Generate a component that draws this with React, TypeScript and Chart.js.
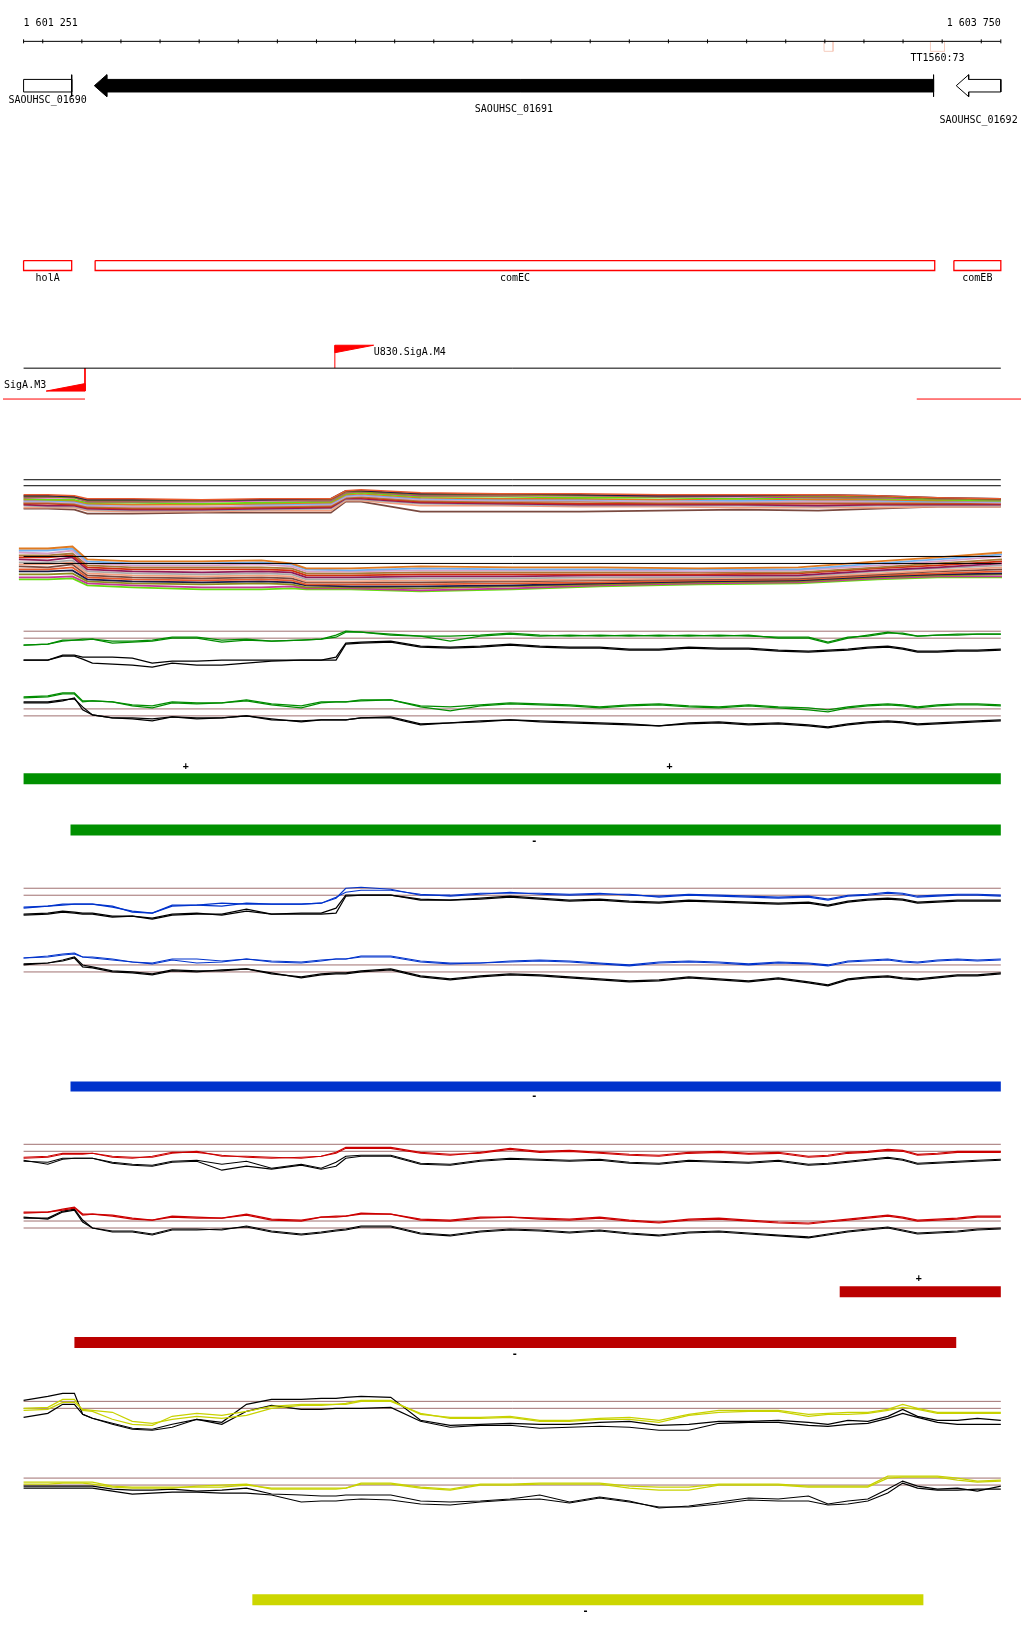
import React, { useEffect, useRef } from "react";
import { Chart, registerables } from "chart.js";

Chart.register(...registerables);

// ================= DATA =================
const VIEW_START = 1601251;
const VIEW_END = 1603750;
const RULER_TICKS = [1601251, 1601300, 1601400, 1601500, 1601600, 1601700, 1601800, 1601900, 1602000, 1602100, 1602200, 1602300, 1602400, 1602500, 1602600, 1602700, 1602800, 1602900, 1603000, 1603100, 1603200, 1603300, 1603400, 1603500, 1603600, 1603700, 1603750];
const RULER_LABELS = ["1 601 251", "1 603 750"];

const TERM_START = [1603298, 1603570];
const TERM_END = [1603321, 1603606];
const TERM_LABELS = ["", "TT1560:73"];

const GENE_NAMES = ["SAOUHSC_01690", "SAOUHSC_01691", "SAOUHSC_01692"];
const GENE_START = [1601150, 1601432, 1603636];
const GENE_END = [1601374, 1603578, 1603830];
const GENE_STRAND = ["-", "-", "-"];
const GENE_FILLED = [false, true, false];

const OPERON_NAMES = ["holA", "comEC", "comEB"];
const OPERON_START = [1601251, 1601434, 1603630];
const OPERON_END = [1601374, 1603581, 1603750];

const SITE_NAMES = ["U830.SigA.M4", "SigA.M3"];
const SITE_POS = [1602047, 1601408];
const SITE_STRAND = ["+", "-"];
const SITE_SPAN_START = [1601198, 1603535];
const SITE_SPAN_END = [1601408, 1603802];

// expressed segments [start, end]
const GREEN_PLUS_SEG = [[1601251, 1603750]];
const GREEN_MINUS_SEG = [[1601371, 1603750]];
const BLUE_MINUS_SEG = [[1601371, 1603750]];
const RED_PLUS_SEG = [[1603338, 1603750]];
const RED_MINUS_SEG = [[1601381, 1603636]];
const YELLOW_MINUS_SEG = [[1601836, 1603552]];
const GREEN_PLUS_MARKS = [1601666, 1602903];
const GREEN_MINUS_MARKS = [1602557];
const BLUE_MINUS_MARKS = [1602557];
const RED_PLUS_MARKS = [1603540];
const RED_MINUS_MARKS = [1602507];
const YELLOW_MINUS_MARKS = [1602688];

// signal grid (genomic positions)
const GRID_X = [1601251, 1601313, 1601351, 1601381, 1601402, 1601427, 1601478, 1601529, 1601580, 1601631, 1601694, 1601758, 1601821, 1601885, 1601961, 1602012, 1602050, 1602075, 1602114, 1602190, 1602266, 1602342, 1602419, 1602495, 1602571, 1602647, 1602724, 1602800, 1602876, 1602952, 1603029, 1603105, 1603181, 1603258, 1603308, 1603359, 1603410, 1603461, 1603499, 1603537, 1603588, 1603639, 1603690, 1603750];
const THRESHOLDS = [3.0, 3.7];

const G1_GREEN_A = [2.3,2.4,2.8,2.8,2.9,2.9,2.7,2.7,2.8,3.1,3.1,2.8,2.9,2.7,2.8,2.9,3.1,3.6,3.6,3.4,3.2,3.2,3.3,3.5,3.3,3.2,3.3,3.2,3.3,3.2,3.3,3.2,3.1,3.1,2.6,3.1,3.2,3.5,3.5,3.2,3.3,3.4,3.4,3.4];
const G1_GREEN_B = [2.3,2.4,2.7,2.8,2.8,2.9,2.5,2.6,2.7,3.0,3.0,2.6,2.8,2.7,2.8,2.9,3.3,3.7,3.6,3.3,3.2,2.7,3.2,3.4,3.2,3.3,3.2,3.3,3.2,3.3,3.2,3.3,3.0,3.0,2.5,3.0,3.3,3.6,3.4,3.2,3.3,3.3,3.4,3.4];
const G1_BLACK_A = [0.8,0.8,1.3,1.3,1.1,1.1,1.1,1.0,0.5,0.7,0.7,0.8,0.8,0.8,0.8,0.8,1.1,2.5,2.6,2.7,2.2,2.1,2.2,2.4,2.2,2.1,2.1,1.9,1.9,2.1,2.0,2.0,1.8,1.7,1.8,1.9,2.1,2.2,2.0,1.7,1.7,1.8,1.8,1.9];
const G1_BLACK_B = [0.8,0.8,1.2,1.2,0.9,0.5,0.4,0.3,0.1,0.5,0.3,0.3,0.5,0.7,0.8,0.8,0.8,2.4,2.5,2.6,2.1,2.0,2.1,2.3,2.1,2.0,2.0,1.8,1.8,2.0,1.9,1.9,1.7,1.6,1.7,1.8,2.0,2.1,1.9,1.6,1.6,1.7,1.7,1.8];
const G2_GREEN_A = [4.9,5.0,5.3,5.3,4.5,4.5,4.4,4.1,4.0,4.4,4.3,4.3,4.6,4.2,4.0,4.4,4.4,4.4,4.6,4.6,4.0,3.9,4.1,4.3,4.2,4.1,3.9,4.1,4.2,4.0,3.9,4.1,3.9,3.8,3.6,3.9,4.1,4.2,4.1,3.9,4.1,4.2,4.2,4.1];
const G2_GREEN_B = [4.8,4.9,5.2,5.2,4.4,4.5,4.4,4.0,3.8,4.3,4.2,4.3,4.5,4.1,3.8,4.3,4.4,4.4,4.5,4.6,3.9,3.5,4.0,4.2,4.1,4.0,3.8,4.0,4.1,3.9,3.8,4.0,3.8,3.6,3.4,3.8,4.0,4.1,4.0,3.8,4.0,4.1,4.1,4.0];
const G2_BLACK_A = [4.3,4.3,4.5,4.8,3.6,3.1,2.8,2.8,2.7,2.9,2.8,2.8,3.0,2.6,2.5,2.6,2.6,2.6,2.8,2.9,2.2,2.3,2.5,2.6,2.5,2.4,2.3,2.2,2.0,2.3,2.4,2.2,2.3,2.1,1.9,2.2,2.4,2.5,2.4,2.2,2.3,2.4,2.5,2.6];
const G2_BLACK_B = [4.4,4.4,4.6,4.7,3.9,3.1,2.8,2.7,2.5,2.9,2.7,2.8,3.0,2.7,2.4,2.6,2.6,2.6,2.8,2.8,2.1,2.3,2.4,2.6,2.4,2.3,2.2,2.1,2.0,2.2,2.3,2.1,2.2,2.0,1.8,2.1,2.3,2.4,2.3,2.1,2.2,2.3,2.4,2.5];

const B1_BLUE_A = [1.7,1.9,2.1,2.1,2.1,2.1,1.9,1.3,1.2,2.0,2.0,1.9,2.2,2.1,2.1,2.2,2.7,3.7,3.8,3.6,3.0,3.0,3.2,3.2,3.2,3.1,3.2,3.0,2.9,3.1,3.0,2.9,2.8,2.9,2.6,3.0,3.1,3.3,3.2,2.9,3.0,3.1,3.1,3.0];
const B1_BLUE_B = [1.8,1.9,2.0,2.1,2.1,2.1,1.8,1.4,1.2,1.9,2.0,2.2,2.1,2.1,2.1,2.2,2.8,3.3,3.5,3.5,3.1,2.9,3.1,3.3,3.1,3.0,3.1,3.1,2.8,3.0,2.9,2.8,2.7,2.8,2.5,2.9,3.0,3.2,3.1,2.8,2.9,3.0,3.0,2.9];
const B1_BLACK_A = [1.1,1.2,1.4,1.3,1.2,1.2,0.9,0.9,0.7,1.1,1.2,1.0,1.4,1.1,1.2,1.2,1.7,3.0,3.0,3.0,2.6,2.5,2.7,2.9,2.7,2.5,2.6,2.4,2.3,2.5,2.4,2.3,2.2,2.3,2.0,2.4,2.6,2.7,2.6,2.3,2.4,2.5,2.5,2.5];
const B1_BLACK_B = [1.0,1.1,1.3,1.2,1.1,1.1,0.8,0.9,0.6,1.0,1.1,1.1,1.6,1.1,1.1,1.1,1.2,2.9,3.0,3.0,2.5,2.5,2.6,2.8,2.6,2.4,2.5,2.3,2.2,2.4,2.3,2.2,2.1,2.2,1.9,2.3,2.5,2.6,2.5,2.2,2.3,2.4,2.4,2.4];
const B2_BLUE_A = [4.4,4.6,4.8,4.9,4.5,4.5,4.3,4.0,3.9,4.3,4.3,4.1,4.3,4.1,4.0,4.2,4.3,4.3,4.6,4.6,4.1,3.9,3.9,4.1,4.2,4.1,3.9,3.7,4.0,4.1,4.0,3.8,4.0,3.9,3.7,4.1,4.2,4.3,4.1,4.0,4.2,4.3,4.2,4.3];
const B2_BLUE_B = [4.4,4.5,4.7,4.8,4.5,4.4,4.2,4.0,3.8,4.2,3.9,4.0,4.3,4.0,3.9,4.1,4.3,4.3,4.5,4.5,4.0,3.8,3.9,4.0,4.1,4.0,3.8,3.6,3.9,4.0,3.9,3.7,3.9,3.8,3.6,4.0,4.1,4.2,4.0,3.9,4.1,4.2,4.1,4.2];
const B2_BLACK_A = [3.7,3.9,4.2,4.5,3.7,3.5,3.1,3.0,2.8,3.2,3.1,3.1,3.3,2.8,2.5,2.8,2.9,2.9,3.1,3.3,2.6,2.3,2.6,2.8,2.7,2.5,2.3,2.1,2.2,2.5,2.3,2.1,2.4,2.0,1.7,2.3,2.5,2.6,2.4,2.3,2.5,2.7,2.7,2.9];
const B2_BLACK_B = [3.8,3.9,4.1,4.4,3.5,3.4,3.0,2.9,2.7,3.1,3.0,3.2,3.3,2.9,2.4,2.7,2.8,2.8,3.0,3.2,2.5,2.2,2.5,2.7,2.6,2.4,2.2,2.0,2.1,2.4,2.2,2.0,2.3,1.9,1.6,2.2,2.4,2.5,2.3,2.2,2.4,2.6,2.6,2.8];

const R1_RED_A = [2.3,2.4,2.7,2.7,2.7,2.8,2.5,2.4,2.4,2.8,3.0,2.5,2.5,2.4,2.3,2.5,2.8,3.3,3.3,3.3,2.8,2.6,2.9,3.3,3.0,3.1,2.9,2.7,2.6,2.9,3.0,2.8,2.9,2.5,2.6,2.9,3.0,3.2,3.1,2.7,2.8,3.0,3.0,3.0];
const R1_RED_B = [2.4,2.5,2.8,2.8,2.8,2.8,2.4,2.3,2.5,2.9,2.9,2.6,2.4,2.3,2.4,2.5,2.9,3.4,3.4,3.4,2.9,2.7,2.8,3.2,2.9,3.0,2.8,2.6,2.5,2.8,2.9,2.7,2.8,2.4,2.5,2.8,2.9,3.1,3.0,2.6,2.7,2.9,2.9,2.9];
const R1_BLACK_A = [2.0,1.9,2.3,2.3,2.3,2.3,1.9,1.7,1.6,2.0,2.1,1.7,2.0,1.3,1.7,1.3,1.9,2.5,2.6,2.6,1.8,1.7,2.1,2.3,2.2,2.1,2.2,1.9,1.8,2.1,2.0,1.9,2.1,1.7,1.8,2.0,2.2,2.4,2.2,1.8,1.9,2.0,2.1,2.2];
const R1_BLACK_B = [2.1,1.7,2.2,2.3,2.3,2.3,1.8,1.6,1.5,1.9,2.0,1.1,1.5,1.2,1.6,1.2,1.5,2.3,2.5,2.5,1.7,1.6,2.0,2.2,2.1,2.0,2.1,1.8,1.7,2.0,1.9,1.8,2.0,1.6,1.7,1.9,2.1,2.3,2.1,1.7,1.8,1.9,2.0,2.1];
const R2_RED_A = [4.6,4.6,4.8,5.0,4.3,4.4,4.3,4.0,3.8,4.2,4.1,4.0,4.4,3.9,3.8,4.1,4.2,4.2,4.5,4.4,3.9,3.8,4.1,4.1,4.0,3.9,4.1,3.8,3.6,3.9,4.0,3.8,3.6,3.5,3.7,3.9,4.1,4.3,4.1,3.8,3.9,4.0,4.2,4.2];
const R2_RED_B = [4.5,4.6,4.9,5.1,4.4,4.4,4.2,3.9,3.8,4.1,4.0,4.0,4.3,3.8,3.7,4.1,4.1,4.2,4.4,4.4,3.8,3.7,4.0,4.1,3.9,3.8,4.0,3.7,3.5,3.8,3.9,3.7,3.5,3.4,3.6,3.8,4.0,4.2,4.0,3.7,3.8,3.9,4.1,4.1];
const R2_BLACK_A = [4.0,4.0,4.7,4.9,3.8,3.0,2.7,2.7,2.4,2.9,2.9,2.8,3.2,2.7,2.4,2.6,2.8,2.9,3.2,3.2,2.5,2.3,2.7,2.9,2.8,2.6,2.8,2.5,2.3,2.6,2.7,2.5,2.3,2.1,2.4,2.7,2.9,3.1,2.8,2.5,2.6,2.7,2.9,3.0];
const R2_BLACK_B = [4.1,3.9,4.6,4.8,3.6,3.0,2.6,2.6,2.3,2.8,2.8,2.9,3.1,2.6,2.3,2.5,2.7,2.8,3.1,3.1,2.4,2.2,2.6,2.8,2.7,2.5,2.7,2.4,2.2,2.5,2.6,2.4,2.2,2.0,2.3,2.6,2.8,3.0,2.7,2.4,2.5,2.6,2.8,2.9];

const Y1_YELLOW_A = [3.0,3.1,3.9,3.9,2.8,2.7,1.9,1.4,1.3,2.2,2.5,2.3,2.7,3.2,3.4,3.4,3.4,3.5,3.8,3.8,2.4,2.1,2.1,2.2,1.8,1.8,2.0,2.1,1.8,2.4,2.8,2.8,2.8,2.4,2.5,2.6,2.6,2.9,3.4,3.0,2.6,2.6,2.6,2.6];
const Y1_YELLOW_B = [2.8,2.9,3.6,3.6,2.9,2.8,2.6,1.7,1.5,1.9,2.2,2.0,2.3,3.0,3.3,3.3,3.4,3.4,3.7,3.7,2.5,2.0,2.0,2.1,1.7,1.7,1.9,1.9,1.6,2.3,2.6,2.7,2.7,2.2,2.4,2.4,2.5,2.8,3.1,2.9,2.5,2.5,2.5,2.5];
const Y1_BLACK_A = [3.8,4.2,4.5,4.5,2.4,2.0,1.5,1.0,0.9,1.4,1.9,1.6,3.4,3.9,3.9,4.0,4.0,4.1,4.2,4.1,1.8,1.3,1.4,1.5,1.4,1.4,1.6,1.7,1.3,1.4,1.7,1.7,1.8,1.6,1.4,1.8,1.7,2.2,2.9,2.2,1.8,1.8,2.0,1.8];
const Y1_BLACK_B = [2.1,2.5,3.4,3.4,2.4,2.0,1.4,0.9,0.8,1.1,1.9,1.4,2.7,3.3,2.9,2.9,3.0,3.0,3.0,3.1,1.7,1.1,1.3,1.3,1.0,1.1,1.2,1.1,0.8,0.8,1.5,1.6,1.6,1.3,1.2,1.4,1.5,2.0,2.5,2.1,1.6,1.4,1.4,1.4];
const Y2_YELLOW_A = [3.3,3.3,3.3,3.3,3.3,3.3,2.9,2.8,2.8,2.8,2.8,2.8,3.0,2.7,2.7,2.7,2.7,2.7,3.2,3.2,2.8,2.6,3.1,3.1,3.2,3.2,3.2,2.9,2.8,2.8,3.1,3.1,3.1,2.9,2.9,2.9,2.9,3.9,3.9,3.9,3.9,3.7,3.4,3.5];
const Y2_YELLOW_B = [3.1,3.1,3.2,3.2,3.2,3.1,2.8,2.7,2.7,2.7,2.9,3.0,3.1,2.6,2.6,2.6,2.6,2.7,3.1,3.1,2.7,2.5,3.0,3.0,3.1,3.1,3.1,2.7,2.5,2.5,3.0,3.0,3.0,2.8,2.8,2.8,2.8,3.7,3.8,3.8,3.8,3.5,3.3,3.4];
const Y2_BLACK_A = [2.9,2.9,2.9,2.9,2.9,2.9,2.6,2.5,2.5,2.6,2.4,2.5,2.7,2.1,2.0,1.9,1.9,2.0,2.0,2.0,1.4,1.3,1.4,1.6,2.0,1.3,1.8,1.4,0.7,0.9,1.3,1.7,1.6,1.9,1.1,1.4,1.6,2.6,3.4,2.9,2.6,2.7,2.4,2.9];
const Y2_BLACK_B = [2.7,2.7,2.7,2.7,2.7,2.7,2.4,2.1,2.2,2.3,2.3,2.2,2.2,2.0,1.3,1.4,1.4,1.5,1.6,1.5,1.1,1.0,1.3,1.5,1.6,1.2,1.7,1.3,0.8,0.8,1.1,1.5,1.4,1.4,1.0,1.1,1.4,2.2,3.2,2.7,2.5,2.5,2.6,2.6];

// multi-condition panels
const MC1_X = [1601251, 1601313, 1601381, 1601414, 1601529, 1601707, 1601859, 1602037, 1602075, 1602114, 1602266, 1602469, 1602673, 1602876, 1603080, 1603283, 1603435, 1603588, 1603750];
const MC1_REFS = [3.0, 3.6];
const MC1_SERIES = [
  [2.1,2.1,2.0,1.7,1.7,1.6,1.7,1.7,2.5,2.6,2.3,2.2,2.2,2.1,2.1,2.1,2.0,1.8,1.7],
  [2.0,2.0,1.9,1.6,1.6,1.6,1.6,1.7,2.5,2.5,2.2,2.2,2.1,2.0,2.0,2.1,2.0,1.8,1.7],
  [1.9,1.9,1.8,1.5,1.5,1.5,1.6,1.6,2.4,2.4,2.1,2.1,2.0,2.0,2.0,1.9,1.9,1.7,1.6],
  [1.8,1.8,1.8,1.4,1.4,1.4,1.5,1.5,2.3,2.4,2.0,2.0,2.0,1.9,1.9,1.8,1.8,1.7,1.6],
  [1.7,1.6,1.6,1.3,1.3,1.2,1.3,1.4,2.2,2.3,1.9,1.9,1.8,1.8,1.7,1.8,1.7,1.6,1.5],
  [1.6,1.6,1.5,1.2,1.1,1.1,1.2,1.3,2.1,2.2,1.8,1.7,1.7,1.6,1.7,1.6,1.6,1.5,1.5],
  [1.5,1.5,1.4,1.1,1.1,1.2,1.1,1.2,2.0,2.1,1.7,1.6,1.6,1.6,1.5,1.6,1.5,1.4,1.4],
  [1.4,1.4,1.3,1.0,0.9,0.9,1.0,1.1,1.9,2.0,1.6,1.5,1.5,1.4,1.4,1.4,1.4,1.4,1.3],
  [1.3,1.3,1.2,0.9,0.8,0.8,0.9,1.0,1.8,1.9,1.5,1.4,1.4,1.3,1.3,1.3,1.3,1.3,1.3],
  [1.2,1.2,1.1,0.8,0.7,0.7,0.8,0.9,1.8,1.8,1.4,1.3,1.2,1.2,1.2,1.2,1.2,1.2,1.2],
  [1.1,1.0,1.0,0.7,0.6,0.6,0.7,0.8,1.7,1.7,1.3,1.2,1.1,1.1,1.1,1.0,1.1,1.1,1.1],
  [1.0,0.9,0.9,0.6,0.5,0.5,0.6,0.7,1.6,1.6,1.2,1.1,1.0,1.0,1.0,0.9,1.0,1.0,1.0],
  [0.8,0.8,0.8,0.5,0.4,0.4,0.5,0.5,1.5,1.5,1.0,1.0,0.9,0.9,0.8,0.8,0.8,0.9,0.9],
  [0.7,0.7,0.6,0.2,0.2,0.3,0.3,0.3,1.4,1.4,0.4,0.4,0.4,0.5,0.6,0.5,0.7,0.9,0.9],
];
const MC2_X = [1601239, 1601313, 1601376, 1601414, 1601529, 1601707, 1601859, 1601936, 1601974, 1602088, 1602266, 1602500, 1602724, 1602978, 1603232, 1603435, 1603588, 1603753];
const MC2_REFS = [3.0, 3.7];
const MC2_SERIES = [
  [4.5,4.5,4.7,3.4,3.2,3.2,3.3,3.0,2.5,2.5,2.7,2.6,2.6,2.5,2.6,3.2,3.6,4.1],
  [4.3,4.3,4.5,3.2,3.0,3.0,3.1,2.9,2.4,2.3,2.5,2.4,2.4,2.4,2.4,3.0,3.4,3.9],
  [4.1,4.0,4.3,3.0,2.8,2.8,2.9,2.7,2.2,2.2,2.3,2.3,2.3,2.2,2.3,2.8,3.2,3.7],
  [3.8,3.8,4.0,2.8,2.6,2.6,2.6,2.5,2.0,2.0,2.1,2.1,2.1,2.1,2.1,2.6,3.0,3.4],
  [3.6,3.6,3.8,2.6,2.4,2.4,2.4,2.3,1.8,1.8,1.9,1.9,1.9,1.9,2.0,2.5,2.8,3.2],
  [3.4,3.3,3.6,2.4,2.2,2.1,2.2,2.1,1.6,1.6,1.7,1.7,1.8,1.8,1.8,2.3,2.6,3.0],
  [3.1,3.1,3.3,2.2,2.0,1.9,2.0,1.9,1.4,1.4,1.5,1.5,1.6,1.6,1.7,2.2,2.5,2.8],
  [2.9,2.9,3.1,2.0,1.8,1.7,1.8,1.7,1.2,1.2,1.3,1.3,1.4,1.5,1.6,2.0,2.3,2.6],
  [2.7,2.6,2.9,1.8,1.6,1.5,1.6,1.5,1.1,1.1,1.1,1.2,1.3,1.4,1.5,1.9,2.2,2.4],
  [2.4,2.4,2.6,1.6,1.4,1.3,1.4,1.3,0.9,0.9,0.9,1.0,1.1,1.3,1.4,1.8,2.0,2.2],
  [2.2,2.2,2.3,1.4,1.2,1.1,1.2,1.1,0.8,0.7,0.7,0.8,1.0,1.2,1.3,1.7,1.9,2.0],
  [1.9,1.9,2.0,1.2,1.0,0.9,1.0,0.9,0.6,0.6,0.5,0.7,0.9,1.1,1.2,1.6,1.8,1.9],
  [1.6,1.6,1.7,1.0,0.8,0.6,0.6,0.7,0.5,0.5,0.3,0.5,0.8,1.0,1.1,1.5,1.7,1.7],
  [1.4,1.4,1.5,0.8,0.6,0.4,0.4,0.5,0.4,0.4,0.2,0.4,0.7,0.9,1.0,1.4,1.6,1.6],
];

// ================= LAYOUT & STYLE =================
const W = 1024;
const H = 1640;
const PLOT_LEFT = 20.7;
const PLOT_RIGHT = 1003.7;
const BP_PER_PX = (VIEW_END - VIEW_START) / (PLOT_RIGHT - PLOT_LEFT);
const UNIT_PX = 10;
const FONT = '10px "DejaVu Sans Mono", "Liberation Mono", monospace';
const MARK_FONT = 'bold 10px "DejaVu Sans Mono", "Liberation Mono", monospace';
const ROW = {
  rulerLabel: 20.5, ruler: 38.5, termTop: 38.5, termBottom: 48.5, termLabel: 55.5,
  geneMid: 83, geneBodyHalf: 6.3, geneHeadHalf: 11, geneLabel: [97.7, 107, 118.3],
  opTop: 258.5, opBottom: 268.5, opLabel: 276,
  siteLine: 366.5, flagTop: 343.5, flagPlusTip: 351, flagBottom: 389.5, flagMinusTip: 382,
  sitePlusLabel: 350.7, siteMinusLabel: 384.3, siteSpan: 397.5,
};
const GENE_HEAD_PX = 12.5;
const FLAG_W_PX = 39;
const PANEL_BASE = { yMC1: 514.5, yMC2: 592.5, yG1: 667.5, yG2: 745.5, yB1: 925.5, yB2: 1002.5, yR1: 1182.5, yR2: 1259.5, yY1: 1440.5, yY2: 1517.5 };
const BARS = [
  { segs: GREEN_PLUS_SEG, marks: GREEN_PLUS_MARKS, mark: "+", color: "#009000", y: 778.5, w: 11, labelY: 766 },
  { segs: GREEN_MINUS_SEG, marks: GREEN_MINUS_MARKS, mark: "-", color: "#009000", y: 830, w: 11, labelY: 841 },
  { segs: BLUE_MINUS_SEG, marks: BLUE_MINUS_MARKS, mark: "-", color: "#0033CC", y: 1087.5, w: 10, labelY: 1097.5 },
  { segs: RED_PLUS_SEG, marks: RED_PLUS_MARKS, mark: "+", color: "#BB0000", y: 1293.5, w: 11, labelY: 1280 },
  { segs: RED_MINUS_SEG, marks: RED_MINUS_MARKS, mark: "-", color: "#BB0000", y: 1344.5, w: 11, labelY: 1356 },
  { segs: YELLOW_MINUS_SEG, marks: YELLOW_MINUS_MARKS, mark: "-", color: "#CCD600", y: 1602.5, w: 11, labelY: 1614 },
];
const SIGNAL_PANELS = [
  { axis: "yG1", color: "#008C00", colored: [G1_GREEN_A, G1_GREEN_B], black: [G1_BLACK_A, G1_BLACK_B] },
  { axis: "yG2", color: "#008C00", colored: [G2_GREEN_A, G2_GREEN_B], black: [G2_BLACK_A, G2_BLACK_B] },
  { axis: "yB1", color: "#0033CC", colored: [B1_BLUE_A, B1_BLUE_B], black: [B1_BLACK_A, B1_BLACK_B] },
  { axis: "yB2", color: "#0033CC", colored: [B2_BLUE_A, B2_BLUE_B], black: [B2_BLACK_A, B2_BLACK_B] },
  { axis: "yR1", color: "#CC0000", colored: [R1_RED_A, R1_RED_B], black: [R1_BLACK_A, R1_BLACK_B] },
  { axis: "yR2", color: "#CC0000", colored: [R2_RED_A, R2_RED_B], black: [R2_BLACK_A, R2_BLACK_B] },
  { axis: "yY1", color: "#C8D200", colored: [Y1_YELLOW_A, Y1_YELLOW_B], black: [Y1_BLACK_A, Y1_BLACK_B] },
  { axis: "yY2", color: "#C8D200", colored: [Y2_YELLOW_A, Y2_YELLOW_B], black: [Y2_BLACK_A, Y2_BLACK_B] },
];
const MC_COLORS = ["#E65A2E", "#1A1A4A", "#8C8C1E", "#C4359A", "#66DD11", "#E07A20", "#70B0F0", "#D8A0C8", "#A87A3A", "#D03010", "#8E1A5A", "#A8A8A8", "#F4A080", "#7A4A40"];
const THRESH_COLOR = "#A07070";

// ================= BUILD =================
function lineDs(data: any[], color: string, width: number, yAxisID: string, extra: any = {}) {
  return { type: "line", data, borderColor: color, borderWidth: width, yAxisID, xAxisID: "x", pointRadius: 0, pointHoverRadius: 0, fill: false, tension: 0, ...extra };
}
function rect(x0: number, x1: number, y0: number, y1: number) {
  return [{ x: x0, y: y0 }, { x: x1, y: y0 }, { x: x1, y: y1 }, { x: x0, y: y1 }, { x: x0, y: y0 }];
}
function genePoly(i: number) {
  const s = GENE_START[i], e = GENE_END[i];
  const cy = ROW.geneMid, bh = ROW.geneBodyHalf, hh = ROW.geneHeadHalf;
  const head = GENE_HEAD_PX * BP_PER_PX;
  const vs = Math.max(s, VIEW_START), ve = Math.min(e, VIEW_END);
  if (GENE_STRAND[i] === "-" && s >= VIEW_START) {
    return [
      { x: s, y: cy }, { x: s + head, y: cy - hh }, { x: s + head, y: cy - bh }, { x: ve, y: cy - bh },
      { x: ve, y: cy + bh }, { x: s + head, y: cy + bh }, { x: s + head, y: cy + hh }, { x: s, y: cy },
    ];
  }
  if (GENE_STRAND[i] === "+" && e <= VIEW_END) {
    return [
      { x: e, y: cy }, { x: e - head, y: cy - hh }, { x: e - head, y: cy - bh }, { x: vs, y: cy - bh },
      { x: vs, y: cy + bh }, { x: e - head, y: cy + bh }, { x: e - head, y: cy + hh }, { x: e, y: cy },
    ];
  }
  return rect(vs, ve, cy - bh, cy + bh);
}

function buildDatasets() {
  const ds: any[] = [];
  const px = "yPx";
  // ruler
  ds.push(lineDs([{ x: VIEW_START, y: ROW.ruler }, { x: VIEW_END, y: ROW.ruler }], "#000", 1, px));
  ds.push(lineDs(RULER_TICKS.map((t) => ({ x: t, y: ROW.ruler })), "#000", 1, px, {
    showLine: false, pointRadius: 2, pointStyle: "line", rotation: 90, pointBorderColor: "#000", pointBorderWidth: 1,
  }));
  TERM_START.forEach((s, i) => ds.push(lineDs(rect(s, TERM_END[i], ROW.termTop, ROW.termBottom), "#F6CDBF", 1, px)));
  // genes
  GENE_NAMES.forEach((_, i) => {
    ds.push(lineDs(genePoly(i), "#000", 1, px, { fill: "shape", backgroundColor: GENE_FILLED[i] ? "#000" : "#fff" }));
    if (GENE_END[i] <= VIEW_END) {
      ds.push(lineDs([{ x: GENE_END[i], y: ROW.geneMid - ROW.geneHeadHalf }, { x: GENE_END[i], y: ROW.geneMid + ROW.geneHeadHalf }], "#000", 1, px));
    }
  });
  // operons
  OPERON_NAMES.forEach((_, i) => ds.push(lineDs(rect(OPERON_START[i], OPERON_END[i], ROW.opTop, ROW.opBottom), "#FF0000", 1.3, px)));
  // sites
  ds.push(lineDs([{ x: VIEW_START, y: ROW.siteLine }, { x: VIEW_END, y: ROW.siteLine }], "#000", 1, px));
  const fw = FLAG_W_PX * BP_PER_PX;
  SITE_POS.forEach((p, i) => {
    if (SITE_STRAND[i] === "+") {
      ds.push(lineDs([{ x: p, y: ROW.siteLine }, { x: p, y: ROW.flagTop }], "#FF0000", 1, px));
      ds.push(lineDs([{ x: p, y: ROW.flagTop }, { x: p + fw, y: ROW.flagTop }, { x: p, y: ROW.flagPlusTip }, { x: p, y: ROW.flagTop }], "#FF0000", 1, px, { fill: "shape", backgroundColor: "#FF0000" }));
    } else {
      ds.push(lineDs([{ x: p, y: ROW.siteLine }, { x: p, y: ROW.flagBottom }], "#FF0000", 1, px));
      ds.push(lineDs([{ x: p, y: ROW.flagBottom }, { x: p - fw, y: ROW.flagBottom }, { x: p, y: ROW.flagMinusTip }, { x: p, y: ROW.flagBottom }], "#FF0000", 1, px, { fill: "shape", backgroundColor: "#FF0000" }));
    }
  });
  SITE_SPAN_START.forEach((s, i) => ds.push(lineDs([{ x: s, y: ROW.siteSpan }, { x: SITE_SPAN_END[i], y: ROW.siteSpan }], "#FF0000", 1, px)));
  // segment bars
  BARS.forEach((b) => b.segs.forEach((sg) => ds.push(lineDs([{ x: sg[0], y: b.y }, { x: sg[1], y: b.y }], b.color, b.w, px, { borderCapStyle: "butt" }))));
  // signal panels: coloured first (on top), then black, then thresholds
  SIGNAL_PANELS.forEach((p) => p.colored.forEach((vals) => ds.push(lineDs(vals.map((v, i) => ({ x: GRID_X[i], y: v })), p.color, 1.2, p.axis))));
  SIGNAL_PANELS.forEach((p) => p.black.forEach((vals) => ds.push(lineDs(vals.map((v, i) => ({ x: GRID_X[i], y: v })), "#000", 1.2, p.axis))));
  SIGNAL_PANELS.forEach((p) => THRESHOLDS.forEach((t) => ds.push(lineDs([{ x: VIEW_START, y: t }, { x: VIEW_END, y: t }], THRESH_COLOR, 1, p.axis))));
  // multi-condition panels
  MC1_REFS.forEach((t) => ds.push(lineDs([{ x: VIEW_START, y: t }, { x: VIEW_END, y: t }], "#000", 1, "yMC1")));
  MC2_REFS.forEach((t) => ds.push(lineDs([{ x: VIEW_START, y: t }, { x: VIEW_END, y: t }], "#000", 1, "yMC2")));
  MC1_SERIES.forEach((vals, k) => ds.push(lineDs(vals.map((v, i) => ({ x: MC1_X[i], y: v })), MC_COLORS[k % MC_COLORS.length], 1.6, "yMC1")));
  MC2_SERIES.forEach((vals, k) => ds.push(lineDs(vals.map((v, i) => ({ x: MC2_X[i], y: v })), MC_COLORS[(k + 5) % MC_COLORS.length], 1.8, "yMC2")));
  return ds;
}

function buildTexts() {
  const t: any[] = [];
  t.push({ text: RULER_LABELS[0], x: VIEW_START, y: ROW.rulerLabel, align: "left" });
  t.push({ text: RULER_LABELS[1], x: VIEW_END, y: ROW.rulerLabel, align: "right" });
  TERM_LABELS.forEach((l, i) => { if (l) t.push({ text: l, x: (TERM_START[i] + TERM_END[i]) / 2, y: ROW.termLabel, align: "center" }); });
  GENE_NAMES.forEach((n, i) => {
    const vs = Math.max(GENE_START[i], VIEW_START), ve = Math.min(GENE_END[i], VIEW_END);
    t.push({ text: n, x: (vs + ve) / 2, y: ROW.geneLabel[i], align: "center" });
  });
  OPERON_NAMES.forEach((n, i) => t.push({ text: n, x: (OPERON_START[i] + OPERON_END[i]) / 2, y: ROW.opLabel, align: "center" }));
  const fw = FLAG_W_PX * BP_PER_PX;
  SITE_NAMES.forEach((n, i) => {
    if (SITE_STRAND[i] === "+") t.push({ text: n, x: SITE_POS[i] + fw, y: ROW.sitePlusLabel, align: "left" });
    else t.push({ text: n, x: SITE_POS[i] - fw, y: ROW.siteMinusLabel, align: "right" });
  });
  BARS.forEach((b) => b.marks.forEach((m) => t.push({ text: b.mark, x: m, y: b.labelY, align: "center", font: MARK_FONT })));
  return t;
}

const textPlugin = {
  id: "genomeText",
  afterDatasetsDraw(chart: any) {
    const ctx = chart.ctx;
    const xs = chart.scales.x;
    const ys = chart.scales.yPx;
    ctx.save();
    ctx.fillStyle = "#000";
    ctx.textBaseline = "middle";
    for (const it of buildTexts()) {
      ctx.font = it.font || FONT;
      ctx.textAlign = it.align;
      ctx.fillText(it.text, xs.getPixelForValue(it.x), ys.getPixelForValue(it.y));
    }
    ctx.restore();
  },
};

function panelAxis(base: number) {
  return { type: "linear", display: false, bounds: "data", grace: 0, min: (base - H) / UNIT_PX, max: base / UNIT_PX };
}

export default function App() {
  const ref = useRef<HTMLCanvasElement>(null);
  useEffect(() => {
    document.body.style.margin = "0";
    const scales: any = {
      x: { type: "linear", display: false, bounds: "data", min: VIEW_START - PLOT_LEFT * BP_PER_PX, max: VIEW_END + (W - PLOT_RIGHT) * BP_PER_PX },
      yPx: { type: "linear", display: false, bounds: "data", reverse: true, min: 0, max: H },
    };
    Object.entries(PANEL_BASE).forEach(([k, b]) => { scales[k] = panelAxis(b as number); });
    const chart = new Chart(ref.current as HTMLCanvasElement, {
      type: "line",
      data: { datasets: buildDatasets() },
      options: {
        responsive: false,
        animation: false,
        devicePixelRatio: 1,
        events: [],
        layout: { padding: 0 },
        plugins: { legend: { display: false }, tooltip: { enabled: false }, title: { display: false } },
        scales,
      } as any,
      plugins: [textPlugin],
    } as any);
    return () => chart.destroy();
  }, []);
  return (
    <canvas ref={ref} width={W} height={H} style={{ display: "block", width: W + "px", height: H + "px", background: "#fff" }} />
  );
}
